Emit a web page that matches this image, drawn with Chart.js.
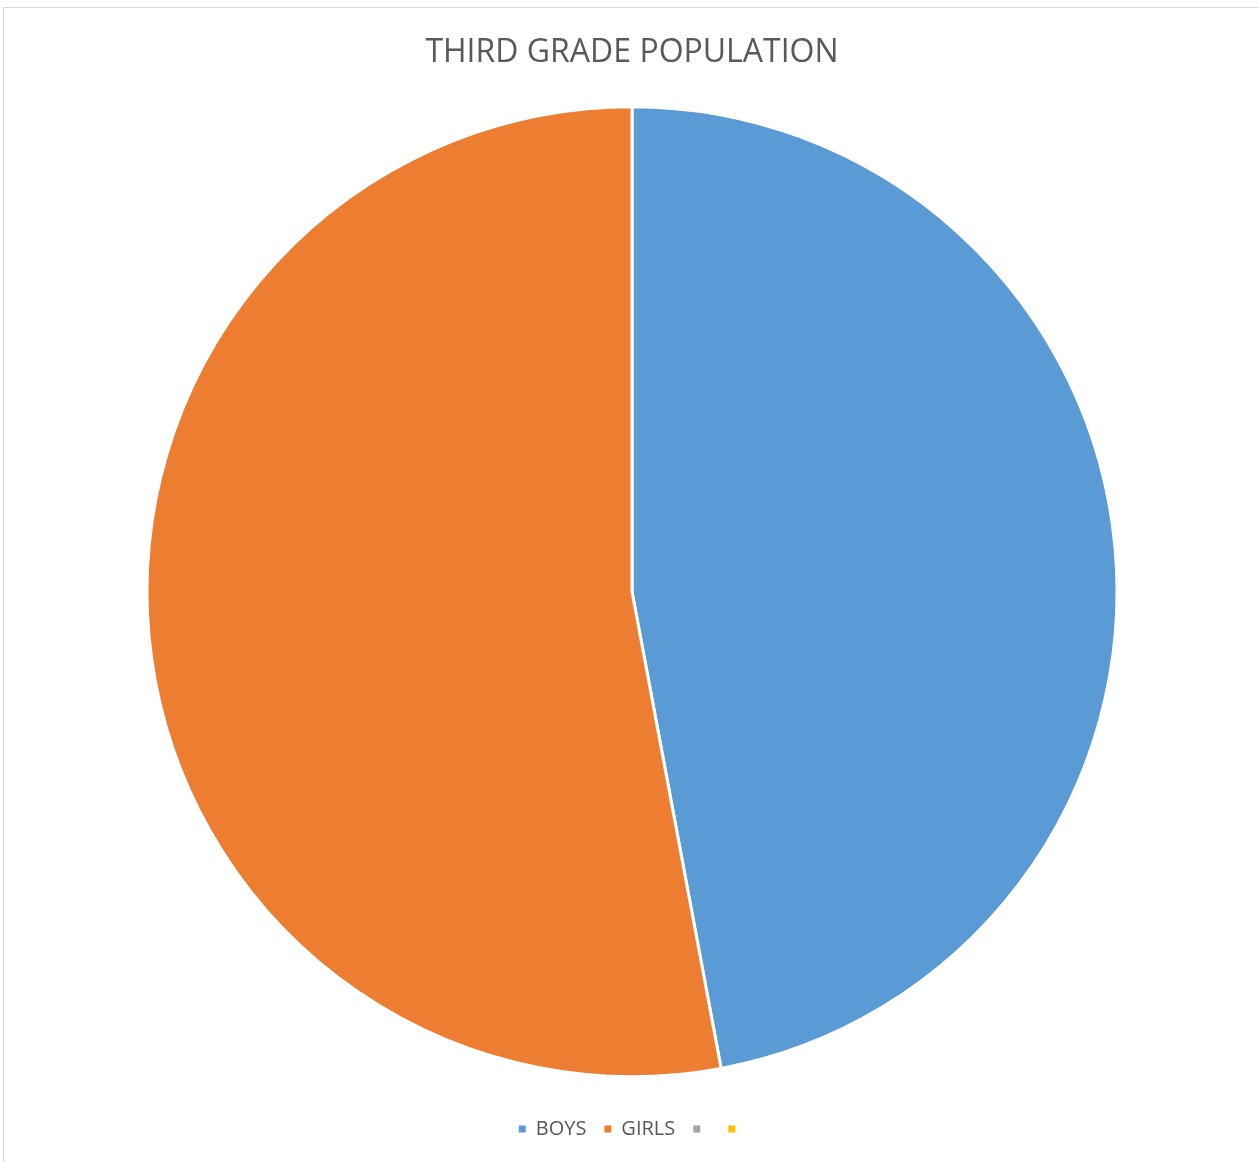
<!DOCTYPE html>
<html>
<head>
<meta charset="utf-8">
<title>Third Grade Population</title>
<script src="https://cdn.jsdelivr.net/npm/chart.js@4/dist/chart.umd.min.js"></script>
<style>
  html, body { margin: 0; padding: 0; background: #ffffff; }
  #wrap { position: relative; width: 1259px; height: 1162px; }
  #frame {
    position: absolute; left: 3px; top: 7px; right: 0; bottom: 0;
    border-top: 1px solid #d9d9d9; border-left: 1px solid #d9d9d9;
  }
  #chart { position: absolute; left: 0; top: 0; }
</style>
</head>
<body>
<div id="wrap">
  <div id="frame"></div>
  <canvas id="chart" width="1259" height="1162"></canvas>
</div>
<script>
// Pupils in the third grade, split by group
const categories = ['BOYS', 'GIRLS', '', ''];
const pupils = [8, 9, 0, 0];
const sliceColors = ['#5B9BD5', '#ED7D31', '#A5A5A5', '#FFC000'];
const chartTitle = 'THIRD GRADE POPULATION';

const textColor = '#595959';
const fontFamily = "'Open Sans', 'Noto Sans', sans-serif";

// Legend swatches: plain filled squares, without the white slice outline
function legendItems(chart) {
  const items = Chart.overrides.pie.plugins.legend.labels.generateLabels(chart);
  return items.map(item => Object.assign(item, { lineWidth: 0, strokeStyle: item.fillStyle }));
}

new Chart(document.getElementById('chart'), {
  type: 'pie',
  data: {
    labels: categories,
    datasets: [{
      data: pupils,
      backgroundColor: sliceColors,
      borderColor: '#ffffff',
      borderWidth: 3,
      radius: 485
    }]
  },
  options: {
    responsive: false,
    animation: false,
    layout: { padding: { left: 5, right: 0, top: 0, bottom: 13 } },
    plugins: {
      title: {
        display: true,
        text: chartTitle,
        color: textColor,
        font: { family: fontFamily, size: 32, weight: 'normal' },
        padding: { top: 34, bottom: 10 }
      },
      legend: {
        position: 'bottom',
        labels: {
          color: textColor,
          font: { family: fontFamily, size: 20 },
          boxWidth: 7,
          boxHeight: 7,
          padding: 18,
          generateLabels: legendItems
        }
      },
      tooltip: { enabled: false }
    }
  }
});
</script>
</body>
</html>
